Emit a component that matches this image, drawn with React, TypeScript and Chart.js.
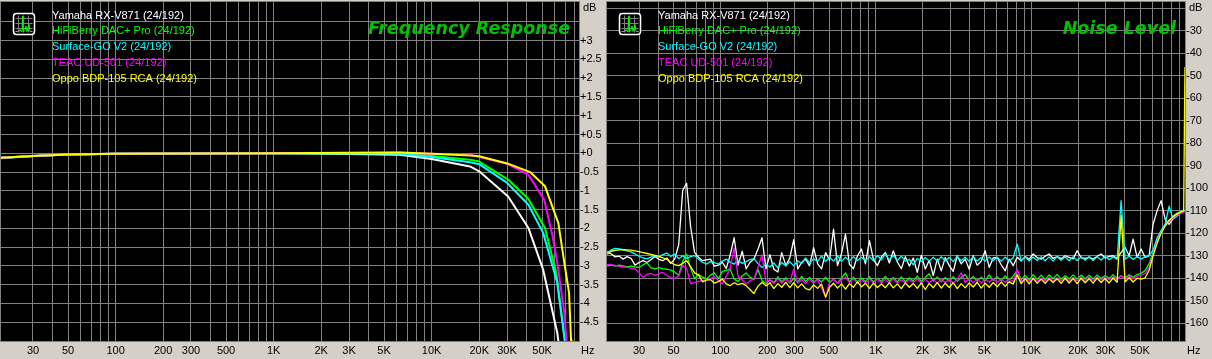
import React, { useEffect, useRef } from "react";
import { Chart, registerables } from "chart.js";

Chart.register(...registerables);

// ---------------- data ----------------
const seriesNames = [
  "Yamaha RX-V871 (24/192)",
  "HiFiBerry DAC+ Pro (24/192)",
  "Surface-GO V2 (24/192)",
  "TEAC UD-501 (24/192)",
  "Oppo BDP-105 RCA (24/192)",
];
const seriesColors = ["#ffffff", "#00ff00", "#00ffff", "#ff00ff", "#ffff00"];

const xGridValues = [
  30, 40, 50, 60, 70, 80, 90, 100, 200, 300, 400, 500, 600, 700, 800, 900,
  1000, 2000, 3000, 4000, 5000, 6000, 7000, 8000, 9000, 10000, 20000, 30000,
  40000, 50000, 60000, 70000, 80000, 90000,
];
const xTickValues = [30, 50, 100, 200, 300, 500, 1000, 2000, 3000, 5000, 10000, 20000, 30000, 50000];
const xTickLabels = ["30", "50", "100", "200", "300", "500", "1K", "2K", "3K", "5K", "10K", "20K", "30K", "50K"];

const frYGrid = [-4.5, -4, -3.5, -3, -2.5, -2, -1.5, -1, -0.5, 0, 0.5, 1, 1.5, 2, 2.5, 3, 3.5];
const frYLabelValues = [3, 2.5, 2, 1.5, 1, 0.5, 0, -0.5, -1, -1.5, -2, -2.5, -3, -3.5, -4, -4.5];
const frYLabels = ["+3", "+2.5", "+2", "+1.5", "+1", "+0.5", "+0", "-0.5", "-1", "-1.5", "-2", "-2.5", "-3", "-3.5", "-4", "-4.5"];

const nzYGrid = [-160, -150, -140, -130, -120, -110, -100, -90, -80, -70, -60, -50, -40, -30, -20];
const nzYLabelValues = [-30, -40, -50, -60, -70, -80, -90, -100, -110, -120, -130, -140, -150, -160];
const nzYLabels = ["-30", "-40", "-50", "-60", "-70", "-80", "-90", "-100", "-110", "-120", "-130", "-140", "-150", "-160"];

// Frequency response (Hz, dB)
const frYamahaF = [18.8, 30, 50, 100, 1000, 3000, 6300, 10000, 17500, 20000, 30500, 41000, 50800, 62400, 65000];
const frYamahaDb = [-0.12, -0.07, -0.03, -0.01, 0, -0.02, -0.04, -0.15, -0.35, -0.48, -1.15, -1.99, -3.1, -4.78, -5.35];
const frHifiF = [18.8, 30, 50, 100, 1000, 5000, 6300, 10000, 17500, 20000, 30500, 41000, 52200, 61500, 70500];
const frHifiDb = [-0.12, -0.07, -0.03, -0.01, 0, 0, 0, -0.07, -0.17, -0.22, -0.7, -1.22, -1.99, -3.19, -5.15];
const frSurfaceF = [18.8, 30, 50, 100, 1000, 5000, 6300, 10000, 17500, 20000, 30100, 41000, 50800, 62400, 70500];
const frSurfaceDb = [-0.13, -0.07, -0.03, -0.01, 0, 0, -0.01, -0.1, -0.24, -0.29, -0.79, -1.37, -2.12, -3.45, -5.15];
const frTeacF = [18.8, 30, 50, 100, 1000, 6300, 10000, 17500, 20000, 30100, 41000, 51600, 58300, 62400, 69200, 72000];
const frTeacDb = [-0.12, -0.07, -0.03, -0.01, 0, 0.02, -0.01, -0.04, -0.1, -0.28, -0.57, -1.24, -2.21, -2.92, -4.25, -5.2];
const frOppoF = [18.8, 30, 50, 100, 1000, 6300, 10000, 17500, 20000, 30100, 42000, 52200, 63400, 69200, 74100, 76300, 77000];
const frOppoDb = [-0.12, -0.07, -0.03, -0.01, 0, 0.02, -0.01, -0.06, -0.08, -0.27, -0.5, -0.88, -1.86, -2.92, -3.72, -4.99, -5.3];

// Noise level (Hz, dB)
const nzFreq = [
  18.86, 19.87, 21.08, 22.4, 23.71, 25.13, 26.65, 28.27, 30, 31.83,
  33.76, 35.8, 37.94, 40.19, 42.64, 45.29, 47.95, 50.92, 54, 57.28,
  60.67, 64.37, 68.28, 72.4, 76.83, 81.48, 86.43, 91.6, 97.19, 103,
  109.2, 115.4, 122.7, 130, 138.3, 146.6, 155, 164.4, 174.8, 185.3,
  196.8, 208.3, 220.9, 234.5, 248.2, 263.9, 279.7, 296.6, 314.5, 333.5,
  353.5, 374.7, 398, 422.3, 447.8, 475.3, 504, 534.8, 566.8, 601.9,
  638.1, 676.6, 718.2, 762, 808, 857.3, 909.8, 964.5, 1024, 1086,
  1152, 1222, 1296, 1375, 1459, 1548, 1642, 1741, 1848, 1961,
  2080, 2206, 2341, 2484, 2635, 2796, 2966, 3146, 3338, 3542,
  3758, 3987, 4230, 4488, 4761, 5052, 5359, 5686, 6033, 6401,
  6792, 7206, 7645, 8111, 8605, 9130, 9686, 10276, 10903, 11568,
  12274, 13022, 13817, 14659, 15554, 16502, 17508, 18577, 19710, 20912,
  22187, 23540, 24976, 26499, 28115, 29831, 31650, 33581, 35629, 37802,
  40108, 42554, 45149, 47903, 50825, 53926, 57214, 60704, 64407, 68335,
  72504, 76926, 81617, 86594, 91876, 95434, 97281,
];
const nzYamaha = [
  -128.3, -129.2, -130.5, -130.2, -131.5, -130.4, -131.2, -134.2, -133.0, -132.2,
  -133.0, -131.8, -130.3, -131.6, -132.2, -131.0, -133.4, -131.5, -125.0, -101.0,
  -97.8, -117.0, -128.5, -130.7, -132.2, -131.8, -131.5, -134.6, -134.2, -132.9,
  -135.6, -130.0, -122.0, -134.2, -128.0, -135.8, -133.0, -131.5, -127.0, -122.0,
  -135.8, -129.5, -136.0, -137.2, -128.6, -134.4, -131.0, -122.8, -135.8, -133.0,
  -131.5, -134.5, -126.4, -133.5, -135.8, -128.6, -132.0, -118.2, -134.4, -129.0,
  -120.4, -133.8, -135.8, -130.0, -127.0, -133.6, -123.3, -131.6, -134.4, -130.5,
  -128.5, -133.2, -127.8, -132.8, -135.8, -130.4, -134.6, -131.0, -137.4, -129.8,
  -135.9, -132.0, -138.8, -131.5, -136.7, -130.8, -134.4, -137.0, -130.0, -133.6,
  -131.5, -136.0, -130.0, -134.2, -132.4, -127.8, -135.2, -131.0, -130.7, -134.0,
  -136.7, -131.5, -134.4, -130.7, -132.2, -130.4, -131.6, -129.2, -130.8, -131.5,
  -130.2, -129.2, -131.2, -130.4, -131.3, -130.0, -130.7, -131.4, -127.8, -130.9,
  -131.2, -130.7, -131.5, -130.2, -129.2, -131.0, -130.3, -130.0, -131.2, -128.5,
  -126.3, -130.0, -122.6, -130.7, -127.0, -130.7, -130.0, -116.0, -110.0, -105.5,
  -113.7, -116.0, -113.5, -112.0, -110.8, -110.2, -110.0,
];
const nzHifiberry = [
  -134.5, -134.2, -134.6, -134.2, -134.5, -134.9, -134.6, -135.0, -135.2, -134.0,
  -133.2, -135.4, -135.8, -135.3, -135.7, -136.0, -136.4, -137.2, -138.7, -132.5,
  -129.3, -135.5, -140.2, -138.3, -139.5, -140.4, -138.6, -137.6, -140.2, -137.0,
  -136.5, -135.9, -140.3, -141.5, -139.0, -137.6, -139.5, -140.6, -136.2, -141.0,
  -142.5, -140.6, -141.9, -139.4, -141.6, -139.8, -142.2, -140.0, -141.8, -139.2,
  -141.4, -139.6, -142.0, -140.2, -141.7, -139.5, -141.9, -140.3, -142.3, -139.8,
  -137.6, -141.6, -139.5, -141.8, -139.9, -141.5, -139.3, -141.7, -140.0, -141.4,
  -139.2, -141.3, -139.7, -141.6, -139.4, -141.5, -139.8, -141.2, -139.1, -141.4,
  -139.6, -138.0, -141.3, -139.4, -141.5, -139.7, -141.2, -139.3, -141.4, -139.6,
  -138.4, -141.0, -139.2, -141.3, -139.5, -141.1, -138.5, -140.9, -139.3, -141.0,
  -139.0, -140.8, -139.1, -136.5, -140.6, -138.7, -140.7, -138.4, -140.5, -138.6,
  -140.6, -138.5, -140.2, -138.3, -140.4, -138.9, -140.3, -138.5, -140.4, -138.6,
  -140.2, -138.7, -140.3, -138.5, -140.1, -138.8, -140.0, -138.4, -140.1, -138.9,
  -139.9, -138.5, -139.6, -138.3, -137.9, -136.5, -133.5, -128.6, -123.0, -119.0,
  -116.5, -114.2, -112.4, -111.0, -110.3, -109.9, -109.8,
];
const nzSurface = [
  -128.6, -127.4, -126.7, -127.0, -127.3, -127.8, -128.3, -129.2, -130.2, -131.0,
  -131.4, -130.6, -129.9, -130.6, -129.5, -128.8, -130.3, -129.3, -131.3, -130.0,
  -131.2, -130.4, -129.9, -131.5, -132.9, -133.7, -132.6, -133.0, -133.7, -132.4,
  -131.5, -132.8, -133.7, -132.0, -133.4, -132.6, -131.7, -131.3, -133.5, -135.2,
  -133.7, -135.0, -133.2, -135.4, -133.0, -134.6, -132.6, -134.5, -132.2, -133.4,
  -131.0, -133.2, -131.4, -132.4, -130.2, -132.6, -130.6, -132.4, -130.1, -132.5,
  -130.6, -132.3, -130.4, -132.1, -130.7, -132.2, -130.4, -132.3, -129.9, -131.8,
  -129.2, -131.9, -129.8, -132.2, -130.2, -132.4, -131.6, -134.0, -131.2, -132.6,
  -130.8, -132.4, -130.6, -132.5, -130.4, -132.3, -130.7, -132.6, -130.3, -132.2,
  -130.6, -132.5, -130.4, -132.3, -130.8, -132.4, -130.5, -132.2, -130.7, -132.4,
  -130.6, -132.3, -130.9, -124.8, -132.4, -130.5, -132.3, -130.6, -132.1, -130.4,
  -132.2, -130.5, -132.4, -130.3, -132.0, -130.6, -132.2, -130.4, -132.1, -130.5,
  -132.0, -130.3, -132.1, -130.4, -131.9, -130.2, -131.8, -130.5, -131.7, -105.5,
  -131.6, -130.1, -131.7, -130.3, -131.5, -130.4, -130.0, -127.5, -122.0, -118.8,
  -115.9, -108.0, -113.7, -112.3, -111.0, -110.2, -110.0,
];
const nzTeac = [
  -133.8, -134.0, -134.3, -134.7, -135.0, -135.2, -135.5, -135.9, -137.5, -139.6,
  -138.3, -137.8, -138.8, -138.0, -137.4, -138.8, -139.7, -140.0, -139.0, -134.4,
  -135.5, -142.4, -141.9, -141.4, -141.1, -140.6, -140.2, -139.2, -141.0, -142.5,
  -139.0, -136.0, -126.5, -139.2, -140.8, -142.5, -141.2, -140.3, -135.0, -129.5,
  -141.8, -140.6, -142.4, -140.3, -142.1, -140.5, -141.9, -136.0, -142.2, -140.6,
  -142.3, -140.4, -142.0, -140.6, -144.5, -148.3, -142.0, -140.4, -142.3, -140.7,
  -139.5, -142.1, -140.3, -142.2, -140.5, -142.3, -140.4, -142.0, -140.2, -142.1,
  -140.5, -142.2, -140.2, -142.0, -140.8, -142.1, -140.6, -141.9, -140.3, -142.2,
  -140.4, -142.0, -140.5, -142.3, -140.2, -141.9, -140.4, -142.1, -140.5, -137.6,
  -141.9, -140.2, -142.0, -140.4, -142.1, -140.3, -141.8, -140.1, -141.9, -140.3,
  -141.8, -140.2, -141.6, -136.0, -141.5, -139.9, -141.3, -139.8, -141.4, -139.9,
  -141.2, -139.7, -141.3, -139.8, -141.1, -139.6, -141.0, -139.7, -141.1, -139.5,
  -140.9, -139.6, -141.0, -139.4, -140.8, -139.5, -140.7, -139.3, -140.6, -139.0,
  -140.4, -139.2, -140.2, -139.0, -138.8, -137.8, -135.0, -129.5, -124.0, -119.8,
  -116.8, -114.8, -113.0, -111.9, -111.0, -110.6, -110.4,
];
const nzOppo = [
  -129.2, -128.0, -127.6, -127.4, -127.3, -127.4, -127.5, -127.8, -128.2, -128.6,
  -129.0, -129.4, -129.8, -130.3, -130.9, -131.6, -133.0, -134.0, -134.4, -133.4,
  -132.2, -134.8, -137.6, -138.5, -141.6, -140.8, -140.6, -142.2, -141.5, -140.4,
  -142.5, -143.3, -142.0, -142.8, -142.3, -143.3, -145.0, -146.8, -143.5, -141.8,
  -143.4, -142.0, -144.6, -142.4, -144.0, -141.8, -144.2, -142.0, -144.3, -142.5,
  -144.6, -145.2, -143.0, -144.5, -142.6, -148.4, -144.0, -142.2, -144.4, -142.5,
  -144.8, -142.4, -144.0, -141.6, -143.8, -142.3, -144.5, -142.2, -144.1, -142.6,
  -144.2, -142.0, -144.3, -142.5, -144.6, -142.1, -144.0, -142.3, -144.5, -142.2,
  -145.0, -142.3, -144.2, -141.9, -144.4, -142.2, -144.1, -142.0, -144.6, -142.4,
  -144.3, -142.1, -143.9, -141.8, -144.4, -142.2, -144.0, -141.9, -143.8, -141.7,
  -143.6, -141.5, -142.6, -138.5, -142.4, -140.2, -142.5, -140.1, -142.3, -140.4,
  -142.2, -140.3, -141.9, -140.2, -142.3, -140.0, -142.1, -140.1, -142.4, -140.0,
  -142.0, -140.2, -142.2, -139.9, -141.9, -140.1, -142.1, -139.9, -141.8, -112.2,
  -141.6, -139.8, -141.7, -140.0, -140.4, -139.8, -136.5, -130.0, -124.5, -120.0,
  -116.8, -114.3, -112.6, -111.4, -110.5, -110.0, -46.3,
];

// ---------------- style / layout ----------------
const W = 606;
const H = 359;
const PAD = { left: 1, right: 27, top: 2, bottom: 18 };
const FR_X_MIN = 18.82;
const FR_X_MAX = 85660;
const NZ_X_MIN = 18.67;
const NZ_X_MAX = 97350;
const BG = "#d4d0c8";
const GRID = "#808080";
const FONT = '11px "Liberation Sans", Arial, sans-serif';
const TITLE_FONT = 'italic bold 17.5px "DejaVu Sans", Verdana, sans-serif';
const TITLE_COLOR = "#00c000";

const pts = (fs: number[], vs: number[]) => fs.map((f, i) => ({ x: f, y: vs[i] }));

function drawIcon(ctx: CanvasRenderingContext2D) {
  ctx.save();
  ctx.fillStyle = "#000";
  ctx.strokeStyle = "#ffffff";
  ctx.lineWidth = 1.5;
  ctx.beginPath();
  (ctx as any).roundRect(13.5, 13.5, 21, 21, 3);
  ctx.fill();
  ctx.stroke();
  ctx.strokeStyle = "#808080";
  ctx.lineWidth = 1;
  [18.5, 23.5, 28.5].forEach((g) => {
    ctx.beginPath();
    ctx.moveTo(g, 15.5);
    ctx.lineTo(g, 32.5);
    ctx.moveTo(15.5, g);
    ctx.lineTo(32.5, g);
    ctx.stroke();
  });
  ctx.strokeStyle = "#00ff00";
  ctx.lineWidth = 1;
  const p = [
    [15.5, 31.5], [19, 31.5], [20, 29.5], [21, 31.5], [22, 31.5], [22.5, 16], [23, 31.5],
    [25, 30.5], [26, 26], [27, 31.5], [29, 24.5], [30, 31.5], [32.5, 31.5],
  ];
  ctx.beginPath();
  p.forEach(([x, y], i) => (i ? ctx.lineTo(x, y) : ctx.moveTo(x, y)));
  ctx.stroke();
  ctx.restore();
}

function makeOverlay(title: string, yVals: number[], yLabels: string[]) {
  return {
    id: "rmaaOverlay",
    beforeDraw(chart: any) {
      const { ctx, chartArea: a } = chart;
      ctx.save();
      ctx.fillStyle = BG;
      ctx.fillRect(0, 0, chart.width, chart.height);
      ctx.fillStyle = "#000";
      ctx.fillRect(a.left, a.top, a.right - a.left, a.bottom - a.top);
      ctx.restore();
    },
    afterDraw(chart: any) {
      const { ctx, chartArea: a } = chart;
      const xs = chart.scales.x;
      const ys = chart.scales.y;
      ctx.save();
      ctx.strokeStyle = GRID;
      ctx.lineWidth = 1;
      ctx.strokeRect(a.left - 0.5, a.top - 0.5, a.right - a.left + 1, a.bottom - a.top + 1);

      ctx.font = FONT;
      ctx.fillStyle = "#000";
      ctx.textAlign = "left";
      ctx.textBaseline = "middle";
      yVals.forEach((v, i) => ctx.fillText(yLabels[i], a.right + 1, ys.getPixelForValue(v)));
      ctx.fillText("dB", a.right + 4, 8);
      ctx.textAlign = "center";
      xTickValues.forEach((v, i) => ctx.fillText(xTickLabels[i], xs.getPixelForValue(v), a.bottom + 9.5));
      ctx.textAlign = "left";
      ctx.fillText("Hz", a.right + 2, a.bottom + 10);

      drawIcon(ctx);
      ctx.textAlign = "left";
      ctx.textBaseline = "middle";
      seriesNames.forEach((n, i) => {
        ctx.fillStyle = seriesColors[i];
        ctx.fillText(n, 52, 15.5 + i * 15.8);
      });

      ctx.font = TITLE_FONT;
      ctx.fillStyle = TITLE_COLOR;
      ctx.textAlign = "right";
      ctx.textBaseline = "alphabetic";
      ctx.fillText(title, a.right - 9, 34);
      ctx.restore();
    },
  };
}

function makeConfig(
  datasets: any[],
  xMin: number,
  xMax: number,
  yMin: number,
  yMax: number,
  yGrid: number[],
  title: string,
  yVals: number[],
  yLabels: string[]
): any {
  return {
    type: "line",
    data: { datasets },
    options: {
      responsive: false,
      animation: false,
      events: [],
      devicePixelRatio: 1,
      layout: { padding: PAD },
      plugins: { legend: { display: false }, tooltip: { enabled: false }, title: { display: false } },
      elements: {
        point: { radius: 0 },
        line: { tension: 0, borderJoinStyle: "round", borderCapStyle: "round", fill: false },
      },
      scales: {
        x: {
          type: "logarithmic",
          min: xMin,
          max: xMax,
          afterBuildTicks: (s: any) => {
            s.ticks = xGridValues.filter((v) => v < xMax).map((v) => ({ value: v }));
          },
          ticks: { display: false },
          grid: { color: GRID, lineWidth: 1, drawTicks: false },
          border: { display: false },
        },
        y: {
          type: "linear",
          min: yMin,
          max: yMax,
          afterBuildTicks: (s: any) => {
            s.ticks = yGrid.map((v) => ({ value: v }));
          },
          ticks: { display: false },
          grid: { color: GRID, lineWidth: 1, drawTicks: false },
          border: { display: false },
        },
      },
    },
    plugins: [makeOverlay(title, yVals, yLabels)],
  };
}

function ds(i: number, data: any[], width: number) {
  return {
    label: seriesNames[i],
    data,
    borderColor: seriesColors[i],
    backgroundColor: seriesColors[i],
    borderWidth: width,
    pointRadius: 0,
    order: 5 - i,
  };
}

function Panel({ kind }: { kind: "fr" | "noise" }) {
  const ref = useRef<HTMLCanvasElement | null>(null);
  useEffect(() => {
    if (!ref.current) return;
    let cfg: any;
    if (kind === "fr") {
      cfg = makeConfig(
        [
          ds(0, pts(frYamahaF, frYamahaDb), 2),
          ds(1, pts(frHifiF, frHifiDb), 2),
          ds(2, pts(frSurfaceF, frSurfaceDb), 2),
          ds(3, pts(frTeacF, frTeacDb), 2),
          ds(4, pts(frOppoF, frOppoDb), 2),
        ],
        FR_X_MIN,
        FR_X_MAX,
        -5,
        4.03,
        frYGrid,
        "Frequency Response",
        frYLabelValues,
        frYLabels
      );
    } else {
      cfg = makeConfig(
        [
          ds(0, pts(nzFreq, nzYamaha), 1.3),
          ds(1, pts(nzFreq, nzHifiberry), 1.3),
          ds(2, pts(nzFreq, nzSurface), 1.3),
          ds(3, pts(nzFreq, nzTeac), 1.3),
          ds(4, pts(nzFreq, nzOppo), 1.3),
        ],
        NZ_X_MIN,
        NZ_X_MAX,
        -167.9,
        -17.2,
        nzYGrid,
        "Noise Level",
        nzYLabelValues,
        nzYLabels
      );
    }
    const chart = new Chart(ref.current, cfg);
    return () => chart.destroy();
  }, [kind]);
  return <canvas ref={ref} width={W} height={H} style={{ display: "block", width: W, height: H }} />;
}

export default function App() {
  useEffect(() => {
    document.body.style.margin = "0";
  }, []);
  return (
    <div
      style={{
        position: "absolute",
        left: 0,
        top: 0,
        width: 1212,
        height: 359,
        background: BG,
        display: "flex",
      }}
    >
      <Panel kind="fr" />
      <Panel kind="noise" />
    </div>
  );
}
